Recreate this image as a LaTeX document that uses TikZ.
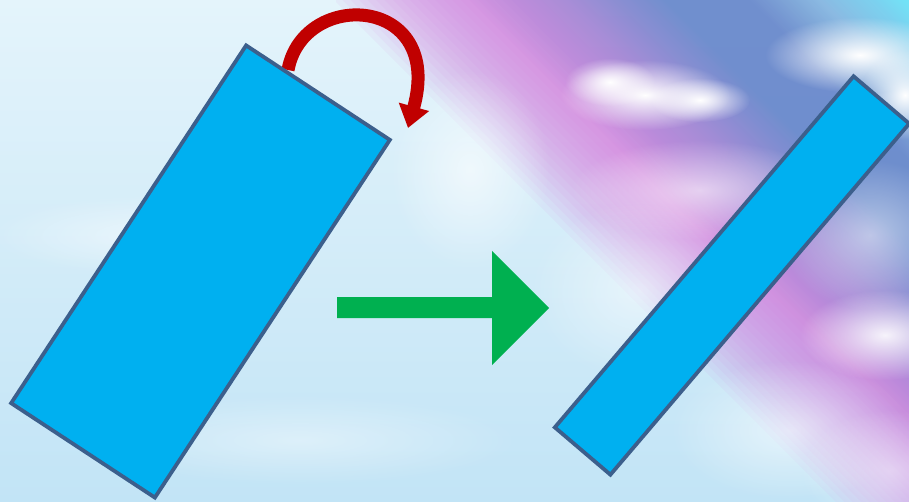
\documentclass[tikz,border=0pt]{standalone}
\usetikzlibrary{arrows.meta,fadings}
\definecolor{skyTop}{HTML}{E4F4FB}
\definecolor{skyBot}{HTML}{C2E4F6}
\definecolor{rbPink}{HTML}{D67ADF}
\definecolor{rbViolet}{HTML}{A07CD6}
\definecolor{rbBlue}{HTML}{5D7FCA}
\definecolor{rbLight}{HTML}{7EB2E2}
\definecolor{rbCyan}{HTML}{5FE2F6}
\definecolor{boxFill}{HTML}{00B0F0}
\definecolor{boxLine}{HTML}{3C5F8C}
\definecolor{turnRed}{HTML}{C00000}
\definecolor{moveGreen}{HTML}{00B050}
% across the band: bp = 50 + (s-475)/20
\pgfdeclarehorizontalshading{rainbowband}{100bp}{color(0bp)=(rbPink); color(42.75bp)=(rbPink);
  color(46.25bp)=(rbViolet); color(49.75bp)=(rbBlue); color(52.75bp)=(rbBlue);
  color(55.25bp)=(rbLight); color(58.25bp)=(rbCyan); color(100bp)=(rbCyan)}
\tikzfading[name=puffFade, inner color=transparent!0, outer color=transparent!100]

\begin{document}
\begin{tikzpicture}[x=1pt, y=-1pt,
    box/.style={rectangle, draw=boxLine, fill=boxFill, line width=3.8pt, inner sep=0pt},
    puff/.style={white, path fading=puffFade},
    turn/.style={turnRed, line width=13pt, -{Triangle[length=22pt, width=30pt]}},
    move/.style={fill=moveGreen}]
  % sky
  \fill[top color=skyTop, bottom color=skyBot] (0,0) rectangle (909,502);
  \useasboundingbox (0,0) rectangle (909,502);
  \begin{scope}
    \clip (0,0) rectangle (909,502);
    % rainbow band, soft left edge
    \foreach \s in {236,242,...,362}{
      \begin{scope}
        \clip[rotate=45] (\s,-100) rectangle (720,1100);
        \shade[shading=rainbowband, shading angle=45, opacity=0.075] (336,-336) rectangle (1336,664);
      \end{scope}}
    % clouds
    \fill[puff] (645,95) ellipse (85 and 35);
    \fill[puff] (610,82) ellipse (45 and 24);
    \fill[puff] (700,100) ellipse (50 and 22);
    \fill[puff] (860,55) ellipse (95 and 38);
    \fill[puff] (905,95) ellipse (45 and 45);
    \fill[puff, opacity=.6] (700,190) ellipse (130 and 50);
    \fill[puff, opacity=.5] (640,290) ellipse (110 and 90);
    \fill[puff, opacity=.5] (870,235) ellipse (90 and 75);
    \fill[puff, opacity=.9] (885,335) ellipse (85 and 45);
    \fill[puff, opacity=.55] (790,430) ellipse (120 and 70);
    \fill[puff, opacity=.5] (890,470) ellipse (90 and 60);
    \fill[puff, opacity=.6] (470,170) ellipse (80 and 100);
    \fill[puff, opacity=.5] (150,235) ellipse (160 and 40);
    \fill[puff, opacity=.4] (300,440) ellipse (220 and 45);
  \end{scope}
  % turning arrow
  \coordinate (turnStart) at (288,70);
  \coordinate (turnEnd) at (408,128);
  \draw[turn] (turnStart) .. controls (303,-12) and (445,-5) .. (turnEnd);
  % the two boxes
  \node[box, minimum width=172pt, minimum height=428pt, rotate=-33.3] (boxTall) at (200.5,271.5) {};
  \node[box, minimum width=73pt, minimum height=461pt, rotate=-40.4] (boxThin) at (732,275.5) {};
  % green arrow
  \fill[move] (337,297) -- (492,297) -- (492,251) -- (549,308) -- (492,365) -- (492,318)
    -- (337,318) -- cycle;
\end{tikzpicture}
\end{document}
